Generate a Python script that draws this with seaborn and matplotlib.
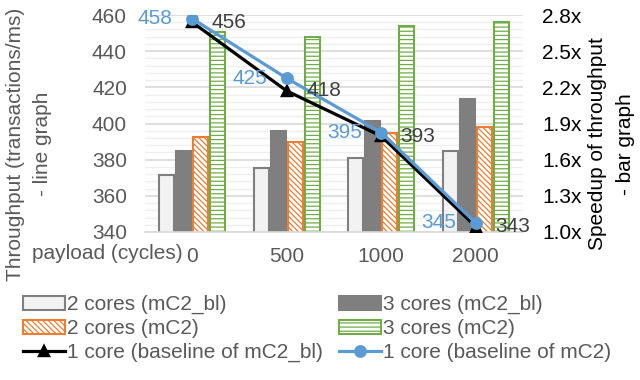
import numpy as np
import pandas as pd
import matplotlib
matplotlib.use("Agg")
import matplotlib.pyplot as plt
from matplotlib.ticker import FixedLocator, FuncFormatter
import seaborn as sns

# ---------------------------------------------------------------------------
# Data
# ---------------------------------------------------------------------------
PAYLOAD = ["0", "500", "1000", "2000"]

# speedup of throughput (right axis, bars)
SPEEDUP_2_BL = [1.47, 1.53, 1.61, 1.67]
SPEEDUP_3_BL = [1.67, 1.84, 1.92, 2.10]
SPEEDUP_2_MC2 = [1.79, 1.75, 1.82, 1.87]
SPEEDUP_3_MC2 = [2.66, 2.62, 2.71, 2.74]

# throughput of 1 core (left axis, lines)
TPUT_BL = [456, 418, 393, 343]
TPUT_MC2 = [458, 425, 395, 345]

BAR_LABELS = ["2 cores (mC2_bl)", "3 cores (mC2_bl)", "2 cores (mC2)", "3 cores (mC2)"]
LINE_LABELS = ["1 core (baseline of mC2_bl)", "1 core (baseline of mC2)"]

# styles
BAR_FACE = ["#f2f2f2", "#7f7f7f", "white", "white"]
BAR_EDGE = ["#7f7f7f", "#7f7f7f", "#ed7d31", "#70ad47"]
BAR_HATCH = [None, None, "\\\\\\\\\\\\", "----"]
LINE_COLORS = ["black", "#5b9bd5"]
LINE_MARKERS = ["^", "o"]
GRID_MAJOR = "#d9d9d9"
GRID_MINOR = "#efefef"
TEXT_GRAY = "#595959"
FS = 15

plt.rcParams.update({
    "font.family": ["Liberation Sans", "DejaVu Sans"],
    "font.size": FS,
    "hatch.linewidth": 0.9,
})

bars = pd.DataFrame({
    "payload": PAYLOAD * 4,
    "speedup": SPEEDUP_2_BL + SPEEDUP_3_BL + SPEEDUP_2_MC2 + SPEEDUP_3_MC2,
    "config": [lab for lab in BAR_LABELS for _ in PAYLOAD],
})
lines = pd.DataFrame({
    "payload": PAYLOAD * 2,
    "tput": TPUT_BL + TPUT_MC2,
    "config": [lab for lab in LINE_LABELS for _ in PAYLOAD],
})

fig = plt.figure(figsize=(6.4, 3.8), dpi=100)
ax = fig.add_axes([0.2266, 0.3895, 0.5906, 0.571])

# ---------------------------------------------------------------------------
# Bars on the speedup axis (drawn underneath)
# ---------------------------------------------------------------------------
sns.barplot(data=bars, x="payload", y="speedup", hue="config",
            hue_order=BAR_LABELS, palette=BAR_FACE, width=0.72, gap=0.12,
            ax=ax, legend=False)
for i, cont in enumerate(ax.containers):
    for p in cont:
        p.set_facecolor(BAR_FACE[i])
        p.set_edgecolor(BAR_EDGE[i])
        p.set_linewidth(1.5)
        if BAR_HATCH[i]:
            p.set_hatch(BAR_HATCH[i])

# twin axis for the lines (twinx resets the original ticks to the left)
axl = ax.twinx()

ax.set_ylim(1.0, 2.8)
ax.yaxis.set_major_locator(FixedLocator([1.0, 1.3, 1.6, 1.9, 2.2, 2.5, 2.8]))
ax.yaxis.set_minor_locator(FixedLocator(np.arange(1.0, 2.81, 0.06)))
ax.yaxis.set_major_formatter(FuncFormatter(lambda v, _: f"{v:.1f}x"))
ax.yaxis.tick_right()
ax.tick_params(axis="y", which="both", length=0, labelsize=FS,
               labelcolor="black", pad=14)
ax.tick_params(axis="x", length=0, labelsize=FS, labelcolor=TEXT_GRAY, pad=11)
ax.grid(axis="y", which="major", color=GRID_MAJOR, lw=1.2)
ax.grid(axis="y", which="minor", color=GRID_MINOR, lw=1.0)
ax.set_axisbelow(True)
ax.set_xlabel("")
ax.set_ylabel("")
for s in ["top", "left", "right"]:
    ax.spines[s].set_visible(False)
ax.spines["bottom"].set_color(GRID_MAJOR)
ax.spines["bottom"].set_linewidth(1.2)

# ---------------------------------------------------------------------------
# Lines on the throughput axis (drawn on top)
# ---------------------------------------------------------------------------
sns.pointplot(data=lines, x="payload", y="tput", hue="config",
              hue_order=LINE_LABELS, palette=LINE_COLORS,
              markers=LINE_MARKERS, markersize=7.5, linewidth=2.3,
              errorbar=None, ax=axl)
line_handles, line_labels = axl.get_legend_handles_labels()
axl.get_legend().remove()

axl.set_ylim(340, 460)
axl.yaxis.set_major_locator(FixedLocator(range(340, 461, 20)))
axl.yaxis.tick_left()
axl.tick_params(axis="y", length=0, labelsize=FS, labelcolor=TEXT_GRAY, pad=13)
axl.set_xlabel("")
axl.set_ylabel("")
for s in axl.spines.values():
    s.set_visible(False)

# value labels (blue to the left of the point, black to the right)
for i, v in enumerate(TPUT_MC2):
    axl.annotate(str(v), (i, v), xytext=(-14, 0), textcoords="offset points",
                 ha="right", va="center", color=LINE_COLORS[1], fontsize=FS)
for i, v in enumerate(TPUT_BL):
    axl.annotate(str(v), (i, v), xytext=(14, 0), textcoords="offset points",
                 ha="left", va="center", color="#404040", fontsize=FS)

# axis titles
fig.text(0.025, 0.621, "Throughput (transactions/ms)", rotation=90,
         ha="center", va="center", color=TEXT_GRAY, fontsize=FS)
fig.text(0.067, 0.621, "- line graph", rotation=90,
         ha="center", va="center", color=TEXT_GRAY, fontsize=FS)
fig.text(0.934, 0.621, "Speedup of throughput", rotation=90,
         ha="center", va="center", color="black", fontsize=FS)
fig.text(0.977, 0.621, "- bar graph", rotation=90,
         ha="center", va="center", color="black", fontsize=FS)
fig.text(0.05, 0.334, "payload (cycles)", ha="left", va="center",
         color=TEXT_GRAY, fontsize=FS)

# legend: column-wise fill -> left column then right column
bar_handles = list(ax.containers)
handles = [bar_handles[0], bar_handles[2], line_handles[0],
           bar_handles[1], bar_handles[3], line_handles[1]]
labels = [BAR_LABELS[0], BAR_LABELS[2], LINE_LABELS[0],
          BAR_LABELS[1], BAR_LABELS[3], LINE_LABELS[1]]
fig.legend(handles, labels, ncol=2, loc="upper left",
           bbox_to_anchor=(0.023, 0.245), frameon=False, fontsize=FS,
           labelcolor=TEXT_GRAY, handlelength=2.0, handleheight=0.65,
           handletextpad=0.1, columnspacing=0.8, labelspacing=0.22,
           borderaxespad=0)

fig.savefig("out.png", dpi=100)
